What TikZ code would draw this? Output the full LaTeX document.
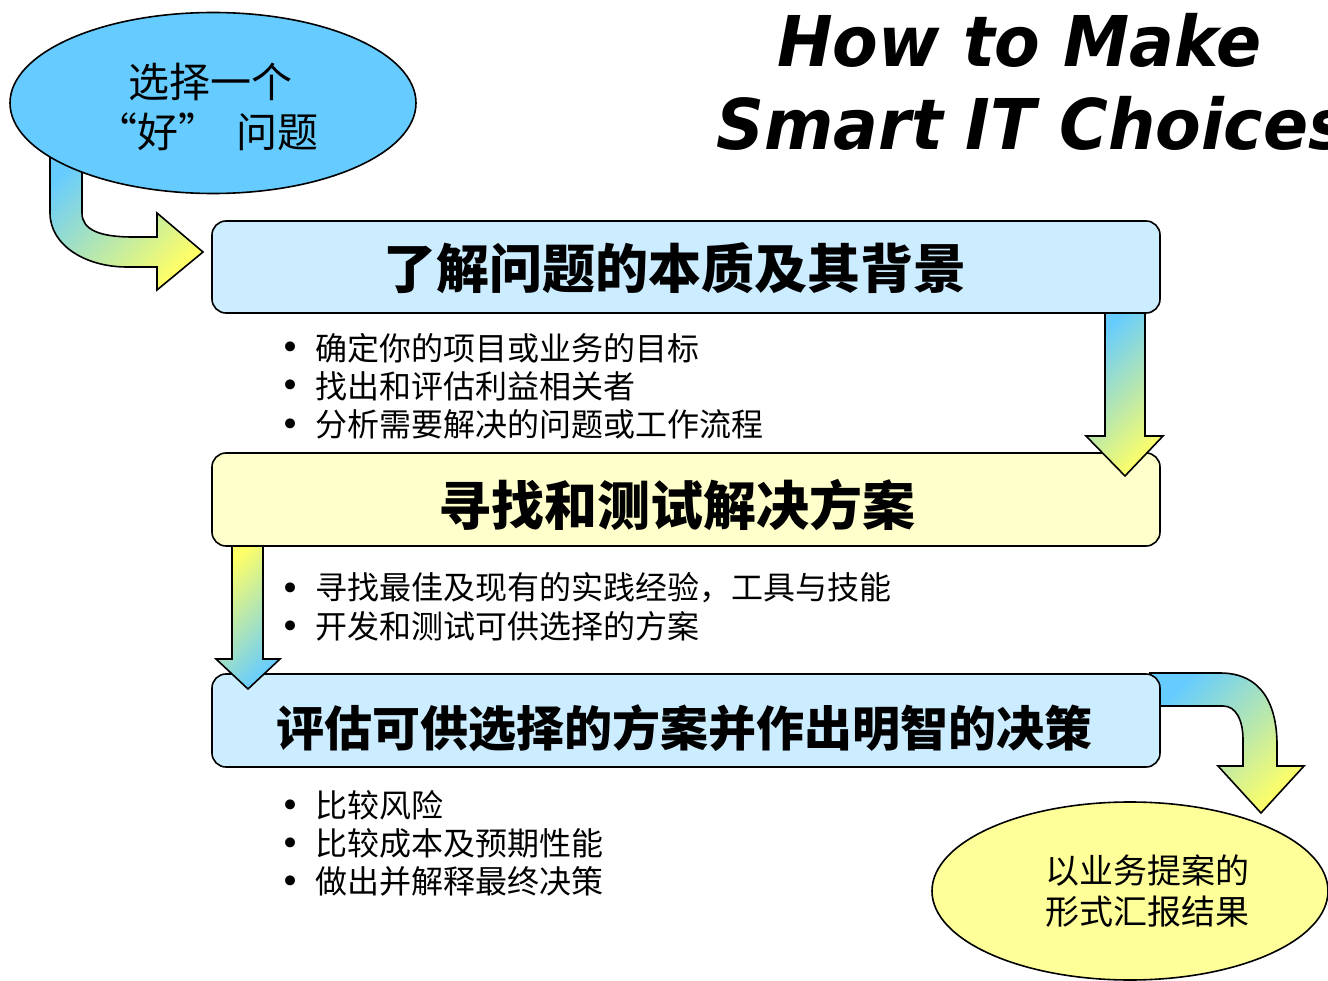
\documentclass[tikz,border=0pt]{standalone}
\usepackage{fontspec}
\newfontfamily\cjk{Noto Sans CJK SC}
\newfontfamily\titlefont{DejaVu Sans}
\usetikzlibrary{shapes.geometric}
\definecolor{ellblue}{HTML}{66CCFF}
\definecolor{boxblue}{HTML}{CCECFF}
\definecolor{boxyellow}{HTML}{FFFFCC}
\definecolor{ellyellow}{HTML}{FFFF99}
\definecolor{gblue}{HTML}{66CCFF}
\definecolor{gyellow}{HTML}{FFFF66}
\tikzset{
  outline/.style={draw=black, line width=1.6pt},
  stagebox/.style={outline, rounded corners=14pt, minimum width=948pt, minimum height=92pt, inner sep=0pt},
  headbig/.style={inner sep=0pt, font=\cjk\bfseries\fontsize{53pt}{60pt}\selectfont},
  headsmall/.style={inner sep=0pt, font=\cjk\bfseries\fontsize{48pt}{56pt}\selectfont},
  arrowBY/.style={outline, line join=miter, top color=gblue, bottom color=gyellow, shading angle=45},
  arrowYB/.style={outline, line join=miter, top color=gyellow, bottom color=gblue, shading angle=45},
  itemtext/.style={anchor=west, inner sep=0pt, font=\cjk\fontsize{32pt}{38pt}\selectfont},
  itemdot/.style={anchor=base, inner sep=0pt, font=\titlefont\fontsize{34pt}{40pt}\selectfont},
  titletext/.style={anchor=base west, inner sep=0pt, font=\titlefont\bfseries\itshape\fontsize{70pt}{80pt}\selectfont},
}
\begin{document}
\begin{tikzpicture}[x=1pt,y=-1pt]
\useasboundingbox (0,0) rectangle (1328,981);

% curved arrow from the start ellipse to box 1
\draw[arrowBY] (50,140) -- (50,213) .. controls (50,245) and (85,267) .. (127,267)
  -- (157,267) -- (157,290) -- (203,252) -- (157,213) -- (157,237) -- (133,237)
  .. controls (100,237) and (82,230) .. (82,213) -- (82,140) -- cycle;

% start ellipse
\node[ellipse, outline, fill=ellblue, minimum width=406pt, minimum height=181pt] (start) at (213,103) {};
\node[anchor=west, align=left, inner sep=0pt, font=\cjk\fontsize{41pt}{50pt}\selectfont] (starttext) at (96,107) {\hspace*{32pt}选择一个\\“好”\hspace{17pt}问题};

% curved arrow from box 3 to the end ellipse
\draw[arrowBY] (1150,673) -- (1220,673) .. controls (1262,673) and (1277,705) .. (1277,745)
  -- (1277,766) -- (1304,766) -- (1261,813) -- (1218,766) -- (1243,766) -- (1243,740)
  .. controls (1243,720) and (1236,706) .. (1223,706) -- (1150,706) -- cycle;

% stage boxes
\node[stagebox, fill=boxblue] (s1) at (686,267) {};
\node[headbig] (s1text) at (675,268) {了解问题的本质及其背景};
\node[stagebox, fill=boxyellow, minimum height=93pt] (s2) at (686,499.5) {};
\node[headbig] (s2text) at (677,505) {寻找和测试解决方案};
\node[stagebox, fill=boxblue, minimum height=93pt] (s3) at (686,720.5) {};
\node[headsmall] (s3text) at (684,728) {评估可供选择的方案并作出明智的决策};

% straight arrows
\draw[arrowBY] (1105,313) -- (1105,436) -- (1086,436) -- (1125,476) -- (1163,436) -- (1145,436) -- (1145,313) -- cycle;
\draw[arrowYB] (232,546) -- (232,659) -- (216,659) -- (248,689) -- (280,659) -- (263,659) -- (263,546) -- cycle;

% end ellipse
\node[ellipse, outline, fill=ellyellow, minimum width=396pt, minimum height=178pt] (finish) at (1130,891) {};
\node[align=center, inner sep=0pt, font=\cjk\fontsize{34pt}{41pt}\selectfont] (finishtext) at (1147,891) {以业务提案的\\形式汇报结果};

% title
\node[titletext] (title1) at (777,67) {\scalebox{0.95}[1]{How to Make}};
\node[titletext] (title2) at (716,150) {\scalebox{0.95}[1]{Smart IT Choices}};

% bullet lists
\foreach \y/\t [count=\i] in {348/确定你的项目或业务的目标, 386/找出和评估利益相关者, 424/分析需要解决的问题或工作流程,
  588/寻找最佳及现有的实践经验，工具与技能, 626/开发和测试可供选择的方案,
  805/比较风险, 843/比较成本及预期性能, 881/做出并解释最终决策} {
  \node[itemdot] (dot\i) at (291,\y+12) {•};
  \node[itemtext] (item\i) at (315,\y) {\t};
}
\end{tikzpicture}
\end{document}
